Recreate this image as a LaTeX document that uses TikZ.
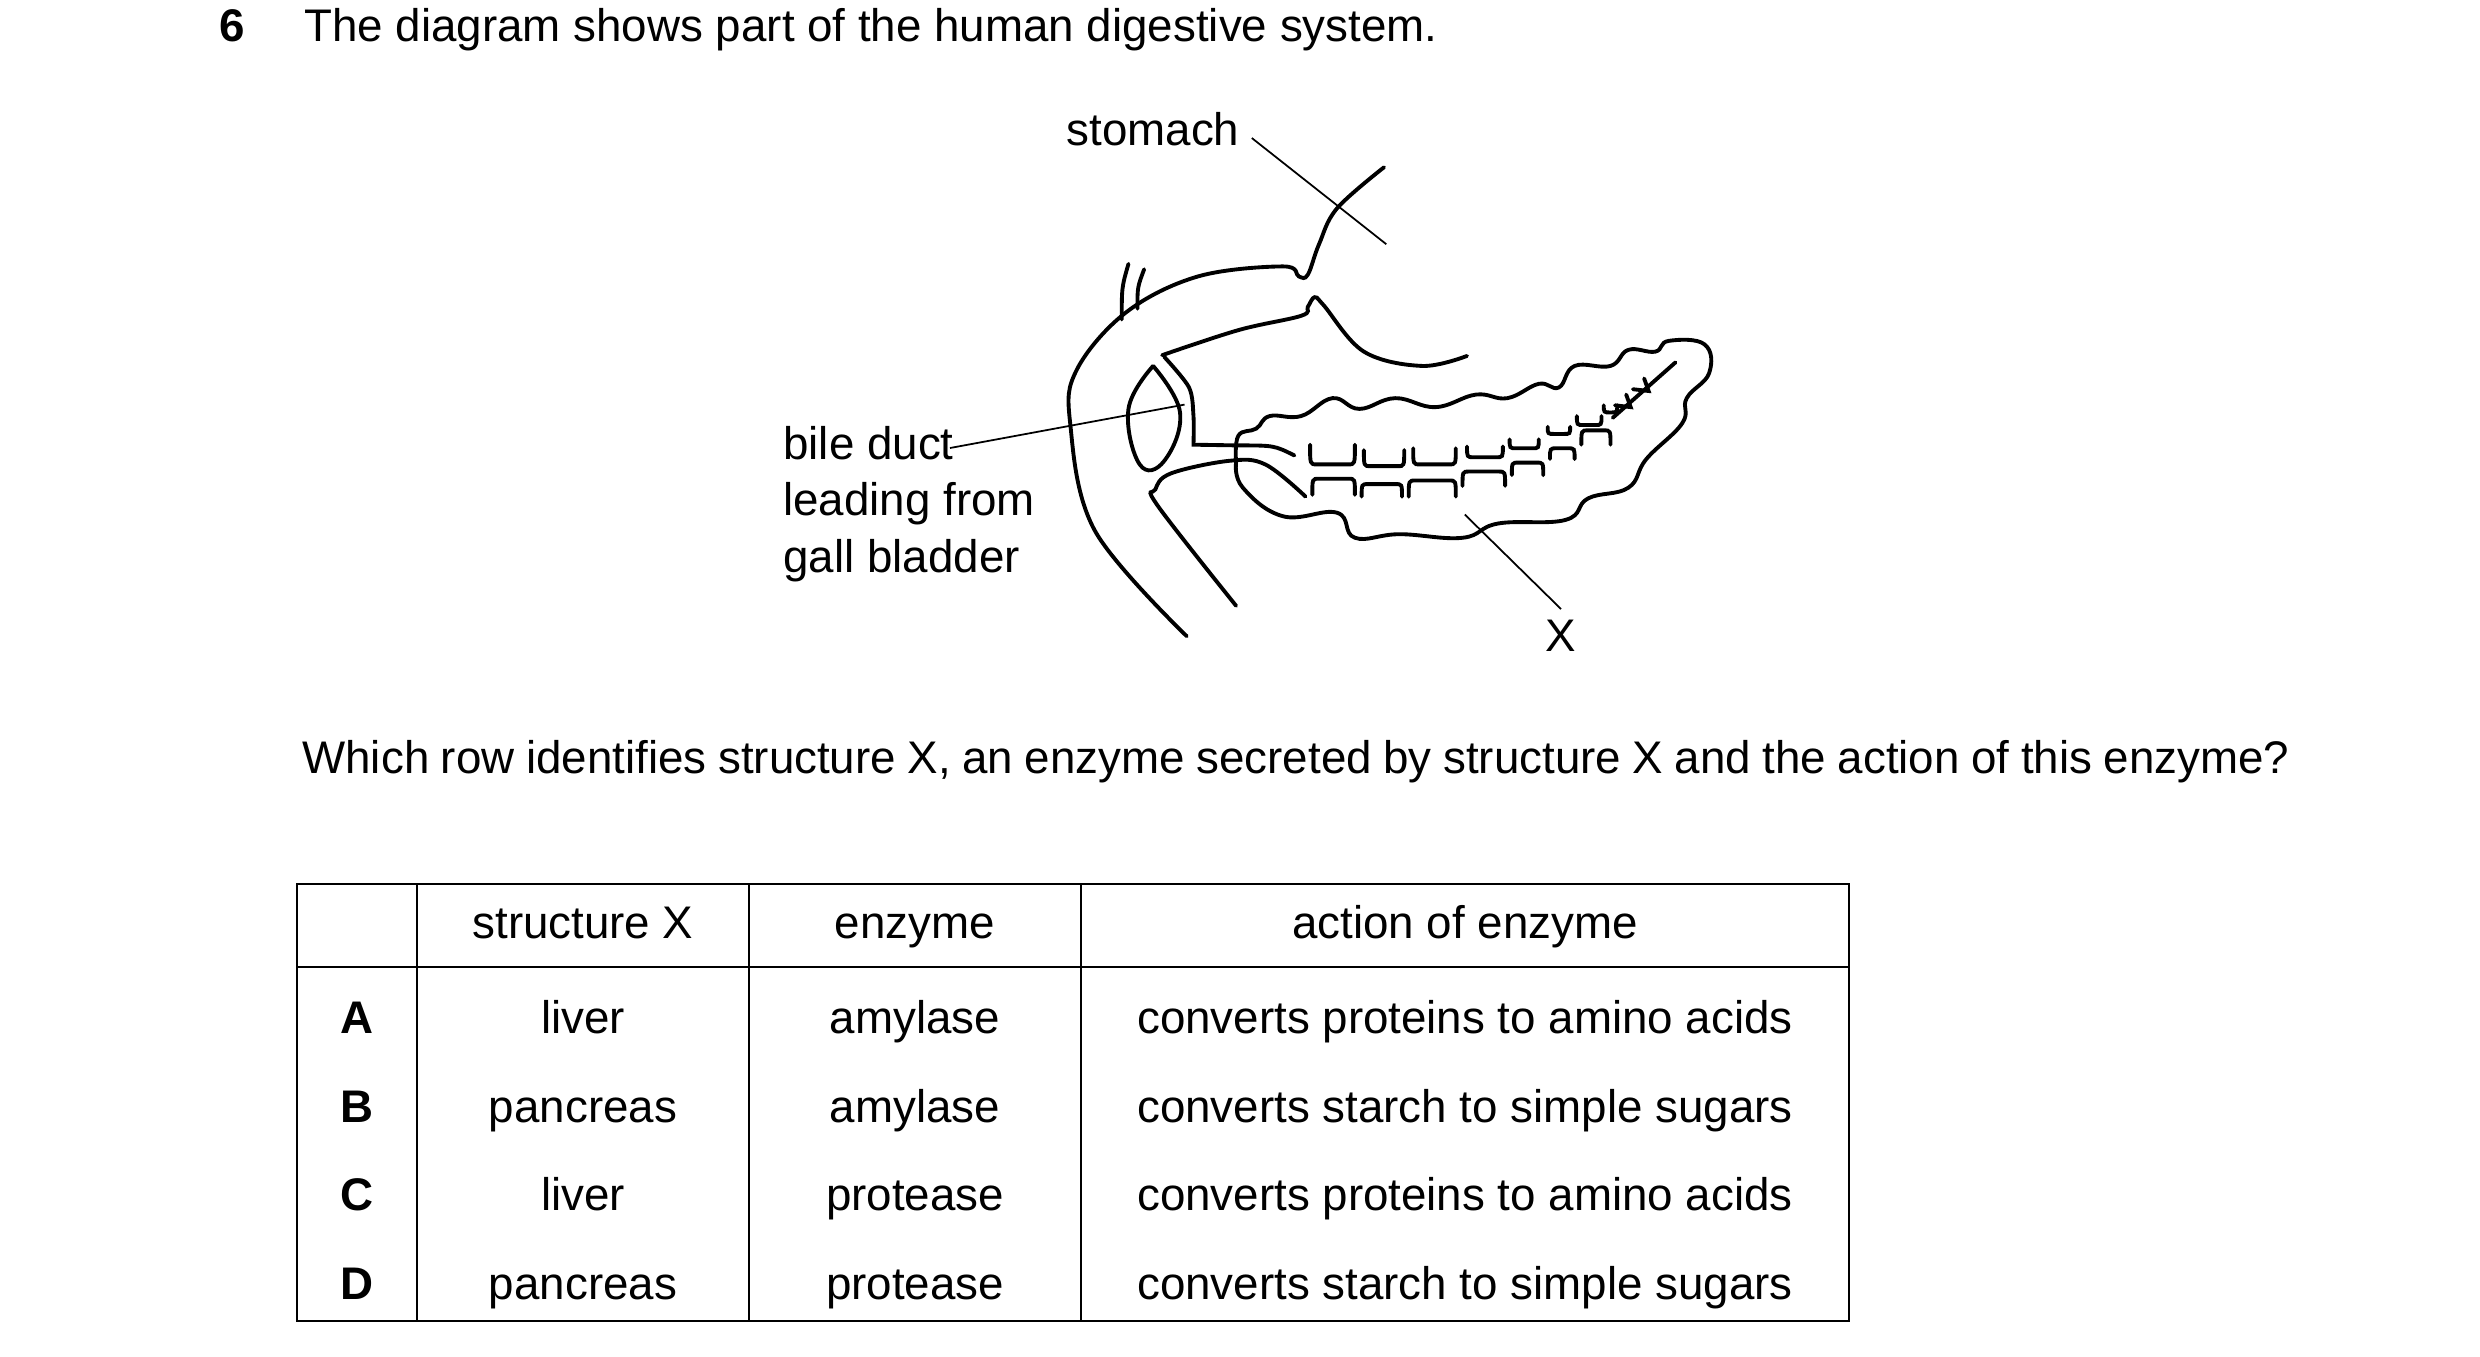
\documentclass[tikz,border=0pt]{standalone}
\usepackage{fontspec}
\setmainfont{Liberation Sans}
\begin{document}
\begin{tikzpicture}[x=0.01cm,y=-0.01cm,
  every node/.style={font=\fontsize{13}{16}\selectfont,text height=1.6ex,text depth=0.4ex},
  organ/.style={line width=1.1pt,line cap=round},
  lead/.style={line width=0.5pt}]
\useasboundingbox (0,0) rectangle (2480,1356);
% question
\node[anchor=west,font=\fontsize{13}{16}\selectfont\bfseries] (num) at (207,30) {6};
\node[anchor=west] (title) at (292,30) {The diagram shows part of the human digestive system.};
% diagram, drawn in zoom units
\begin{scope}[shift={(1050,101)},xscale=0.4484,yscale=0.358]
\draw[organ] plot[smooth,tension=0.6] coordinates {(745,185) (640,300) (600,400) (575,485) (555,490) (520,462) (330,490) (170,590) (60,750) (45,900) (100,1200) (305,1495)};
\draw[organ] (175,455) .. controls (160,520) .. (160,610);
\draw[organ] (210,470) .. controls (195,520) .. (195,580);
\draw[organ] plot[smooth,tension=0.6] coordinates {(930,712) (830,740) (700,700) (610,570) (590,548) (575,575) (560,600) (420,640) (250,710)};
\draw[organ] plot[smooth,tension=0.7] coordinates {(230,740) (175,860) (200,1015) (255,1005) (290,870) (230,740)};
\draw[organ] plot[smooth,tension=0.5] coordinates {(255,715) (310,800) (320,880) (320,960)} -- (420,962) .. controls (500,962) .. (545,990);
\draw[organ] plot[smooth,tension=0.6] coordinates {(415,1410) (240,1130) (235,1085) (270,1040) (400,1005) (480,1015) (570,1105)};
\draw[organ] plot[smooth,tension=0.7] coordinates {(415,1010) (420,935) (460,915) (490,880) (560,880) (630,830) (690,860) (770,830) (860,855) (950,820) (1020,830) (1090,790) (1135,800) (1170,740) (1250,740) (1290,695) (1350,700) (1380,670) (1460,680) (1470,760) (1420,830) (1410,900) (1330,1000) (1290,1080) (1200,1110) (1150,1170) (1000,1180) (920,1220) (780,1210) (680,1220) (640,1150) (520,1160) (430,1080) (415,1010)};
\foreach \a/\c/\t/\b in {580/680/960/1015,700/790/975/1020,810/905/970/1015,930/1010/965/995,1025/1090/945/970,1110/1160/910/930,1175/1230/880/905,1235/1265/850/870,585/680/1100/1055,695/785/1105/1070,800/905/1105/1060,920/1015/1075/1035,1030/1100/1045/1010,1115/1170/1000/970,1185/1250/960/920}
  \draw[organ] (\a,\t) .. controls (\a,\b) .. ({\a+15},\b) -- ({\c-15},\b) .. controls (\c,\b) .. (\c,\t);
\draw[organ] (1395,730) -- (1255,885);
\draw[organ] (1325,775) -- (1335,810) -- (1300,805);
\draw[organ] (1285,820) -- (1295,855) -- (1260,850);
\coordinate (stomachpt) at (750,400);
\coordinate (bilept) at (300,848);
\coordinate (xpt) at (925,1155);
\end{scope}
\node (stomach) at (1153,134) {stomach};
\draw[lead] (stomach.east) ++(0,4) -- (stomachpt);
\node[anchor=west,align=left,text height=,text depth=] (bile) at (771,504) {bile duct\\leading from\\gall bladder};
\draw[lead] (950,448) -- (bilept);
\node (xlab) at (1561,640) {X};
\draw[lead] (xpt) -- (xlab.north);
\node[anchor=north west,text width=19.86cm,align=justify,text height=,text depth=] (q) at (290,728) {Which row identifies structure X, an enzyme secreted by structure X and the action of this enzyme?};
% table
\draw[line width=0.6pt] (297,884) rectangle (1849,1321);
\draw[line width=0.6pt] (297,967) -- (1849,967);
\foreach \x in {417,749,1081} \draw[line width=0.6pt] (\x,884) -- (\x,1321);
\node (h1) at (583,927) {structure X};
\node (h2) at (915,927) {enzyme};
\node (h3) at (1465,927) {action of enzyme};
\foreach \y/\l/\s/\e/\act in {1022/A/liver/amylase/converts proteins to amino acids,1111/B/pancreas/amylase/converts starch to simple sugars,1199/C/liver/protease/converts proteins to amino acids,1288/D/pancreas/protease/converts starch to simple sugars}{
  \node[font=\fontsize{13}{16}\selectfont\bfseries] at (357,\y) {\l};
  \node at (583,\y) {\s};
  \node at (915,\y) {\e};
  \node at (1465,\y) {\act};
}
\end{tikzpicture}
\end{document}
